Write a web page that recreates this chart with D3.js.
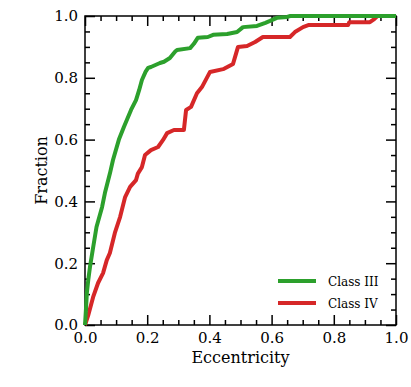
<!DOCTYPE html>
<html>
<head>
<meta charset="utf-8">
<script src="https://cdn.jsdelivr.net/npm/d3@7"></script>
<style>
  body { margin: 0; background: #fff; }
  svg text { font-family: "DejaVu Serif", serif; fill: #000; }
</style>
</head>
<body>
<svg id="chart"></svg>
<script>
// cumulative fraction vs eccentricity
const eccClassIII = [0, 0.003, 0.006, 0.011, 0.016, 0.026, 0.037, 0.055, 0.064, 0.08, 0.09, 0.109, 0.125, 0.148, 0.164, 0.174, 0.183, 0.195, 0.203, 0.212, 0.241, 0.254, 0.273, 0.29, 0.296, 0.338, 0.35, 0.363, 0.395, 0.412, 0.457, 0.489, 0.508, 0.553, 0.58, 0.595, 0.617, 0.65, 0.66, 1.0];
const fracClassIII = [0, 0.05, 0.104, 0.15, 0.188, 0.25, 0.317, 0.382, 0.427, 0.49, 0.534, 0.6, 0.641, 0.696, 0.728, 0.76, 0.793, 0.82, 0.832, 0.835, 0.848, 0.852, 0.864, 0.885, 0.89, 0.896, 0.91, 0.93, 0.932, 0.939, 0.942, 0.948, 0.964, 0.968, 0.978, 0.984, 0.994, 0.997, 1.0, 1.0];

const eccClassIV = [0, 0.01, 0.026, 0.042, 0.058, 0.07, 0.08, 0.096, 0.113, 0.129, 0.145, 0.164, 0.17, 0.183, 0.193, 0.212, 0.235, 0.251, 0.264, 0.286, 0.318, 0.325, 0.341, 0.36, 0.376, 0.402, 0.444, 0.476, 0.492, 0.521, 0.547, 0.572, 0.659, 0.675, 0.701, 0.72, 0.846, 0.85, 0.916, 0.93, 0.94, 1.0];
const fracClassIV = [0, 0.03, 0.09, 0.136, 0.168, 0.21, 0.233, 0.298, 0.35, 0.414, 0.447, 0.469, 0.49, 0.511, 0.55, 0.566, 0.576, 0.599, 0.621, 0.631, 0.631, 0.696, 0.706, 0.75, 0.77, 0.819, 0.828, 0.845, 0.9, 0.903, 0.916, 0.932, 0.932, 0.948, 0.964, 0.971, 0.971, 0.98, 0.98, 0.99, 1.0, 1.0];

const majorTicks = [0, 0.2, 0.4, 0.6, 0.8, 1.0];
const minorTicks = [0.05, 0.1, 0.15, 0.25, 0.3, 0.35, 0.45, 0.5, 0.55, 0.65, 0.7, 0.75, 0.85, 0.9, 0.95];

const series = [
    { name: "Class IV", color: "#d62728", ecc: eccClassIV, frac: fracClassIV },
    { name: "Class III", color: "#2ca02c", ecc: eccClassIII, frac: fracClassIII }
];

var w = 411, h = 387;
let margin = ({ top: 16, right: 15, bottom: 62, left: 85 });

var svg = d3.select("#chart").attr("width", w).attr("height", h);

var xScale = d3.scaleLinear().domain([0, 1]).range([margin.left, w - margin.right]);
var yScale = d3.scaleLinear().domain([0, 1]).range([h - margin.bottom, margin.top]);

const fmt = d3.format(".1f");

// axes: inward ticks on all four sides, labels only bottom and left
function addAxis(axisFn, scale, transform, showLabels) {
    let major = svg.append("g").attr("transform", transform)
        .call(axisFn(scale).tickValues(majorTicks).tickSize(-10).tickPadding(7)
            .tickFormat(showLabels ? fmt : ""));
    let minor = svg.append("g").attr("transform", transform)
        .call(axisFn(scale).tickValues(minorTicks).tickSize(-5).tickFormat(""));
    [major, minor].forEach(g => {
        g.select(".domain").remove();
        g.selectAll("line").attr("stroke", "#000").attr("stroke-width", 1.5);
    });
    major.selectAll("text").style("font-size", "15px").attr("fill", "#000");
}

addAxis(d3.axisBottom, xScale, `translate(0,${h - margin.bottom})`, true);
addAxis(d3.axisTop, xScale, `translate(0,${margin.top})`, false);
addAxis(d3.axisLeft, yScale, `translate(${margin.left},0)`, true);
addAxis(d3.axisRight, yScale, `translate(${w - margin.right},0)`, false);

svg.append("rect")
    .attr("x", margin.left).attr("y", margin.top)
    .attr("width", w - margin.left - margin.right)
    .attr("height", h - margin.top - margin.bottom)
    .attr("fill", "none").attr("stroke", "#000").attr("stroke-width", 1.5);

let line = d3.line()
    .x(d => xScale(d[0]))
    .y(d => yScale(d[1]));

series.forEach(s => {
    svg.append("path")
        .datum(s.ecc.map((e, i) => [e, s.frac[i]]))
        .attr("d", line)
        .attr("fill", "none")
        .attr("stroke", s.color)
        .attr("stroke-width", 4)
        .attr("stroke-linejoin", "round");
});

// legend
const legendItems = [series[1], series[0]];
let legend = svg.append("g");
legendItems.forEach((s, i) => {
    let y = 281 + i * 22;
    legend.append("line")
        .attr("x1", 278).attr("x2", 316).attr("y1", y).attr("y2", y)
        .attr("stroke", s.color).attr("stroke-width", 4);
    legend.append("text")
        .attr("x", 328).attr("y", y + 4.5)
        .style("font-size", "12px")
        .text(s.name);
});

// axis titles
svg.append("text")
    .attr("x", xScale(0.5)).attr("y", 363)
    .attr("text-anchor", "middle")
    .style("font-size", "16px")
    .text("Eccentricity");

svg.append("text")
    .attr("transform", `translate(47,${yScale(0.5)}) rotate(-90)`)
    .attr("text-anchor", "middle")
    .style("font-size", "16px")
    .text("Fraction");
</script>
</body>
</html>
